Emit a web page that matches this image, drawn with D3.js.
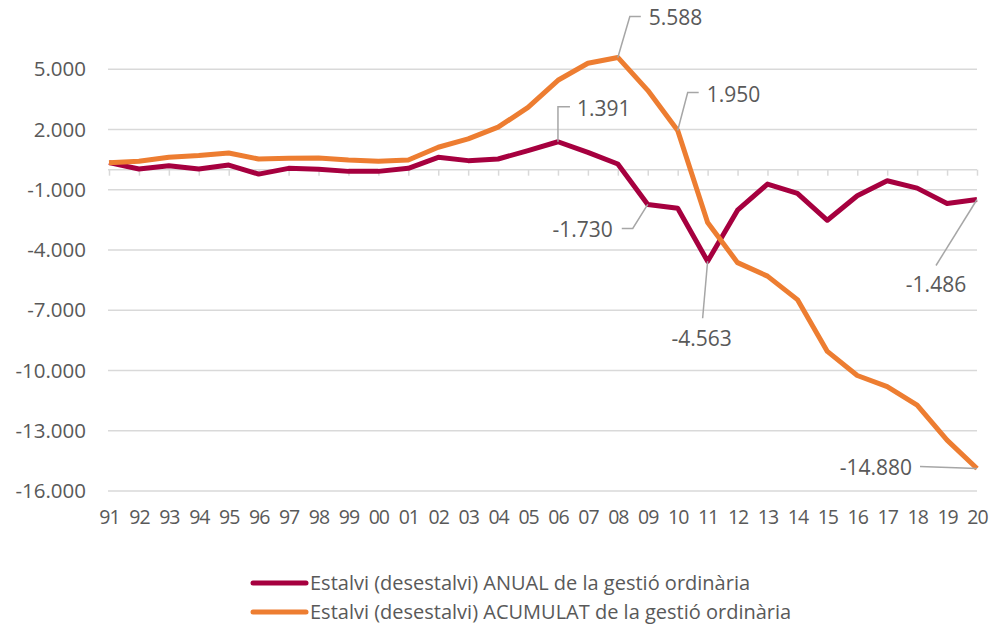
<!DOCTYPE html>
<html><head><meta charset="utf-8">
<script src="https://cdn.jsdelivr.net/npm/d3@7"></script>
<style>
html,body{margin:0;padding:0;background:#fff;}
text{font-family:"Open Sans",sans-serif;fill:#595959;}
</style></head>
<body>
<svg id="c" width="991" height="636"></svg>
<script>
const years = ["91","92","93","94","95","96","97","98","99","00","01","02","03","04","05","06","07","08","09","10","11","12","13","14","15","16","17","18","19","20"];
const anual = [350,35,200,35,230,-220,65,15,-85,-85,65,615,450,530,950,1391,860,280,-1730,-1920,-4563,-2020,-720,-1180,-2520,-1300,-550,-920,-1680,-1486];
const acumulat = [350,415,615,700,830,530,570,580,480,415,480,1115,1530,2115,3100,4450,5300,5588,3950,1950,-2630,-4630,-5300,-6470,-9050,-10250,-10800,-11720,-13470,-14880];
const yTicks = [5000,2000,-1000,-4000,-7000,-10000,-13000,-16000];
const seriesNames = ["Estalvi (desestalvi) ANUAL de la gestió ordinària","Estalvi (desestalvi) ACUMULAT de la gestió ordinària"];
const colors = ["#A6003F","#ED7D31"];

const fmt = d3.formatLocale({decimal:",",thousands:".",grouping:[3],currency:["",""],minus:"-"}).format(",d");
const svg = d3.select("#c");
const x = d3.scalePoint().domain(years).range([109,977]);
const y = d3.scaleLinear().domain([-16000,8000]).range([491,9]);

// gridlines
svg.append("g").selectAll("line").data(yTicks).join("line")
  .attr("x1",108).attr("x2",977).attr("y1",d=>y(d)).attr("y2",d=>y(d))
  .attr("stroke","#D9D9D9").attr("stroke-width",1.5);

// y axis labels
const yAxis = svg.append("g").attr("transform","translate(86,0)")
  .call(d3.axisLeft(y).tickValues(yTicks).tickFormat(fmt).tickSize(0).tickPadding(0));
yAxis.select(".domain").remove();
yAxis.selectAll("text").attr("font-size",20.5).attr("fill","#595959").attr("font-family","Open Sans");

// category axis at zero
const xAxis = svg.append("g").attr("transform",`translate(0,${y(0)})`)
  .call(d3.axisBottom(x).tickSize(6).tickFormat(""));
xAxis.select(".domain").attr("stroke","#D9D9D9").attr("stroke-width",1.5).attr("d",`M108,0H977`);
xAxis.selectAll(".tick line").attr("stroke","#D9D9D9").attr("stroke-width",1.5);

// x labels at bottom
const xLab = svg.append("g").attr("transform","translate(0,510)")
  .call(d3.axisBottom(x).tickSize(0).tickPadding(0));
xLab.select(".domain").remove();
xLab.selectAll("text").attr("font-size",19.5).attr("fill","#595959").attr("font-family","Open Sans").attr("dy","0.71em").attr("letter-spacing","-1");

// lines
const line = d3.line().x((d,i)=>x(years[i])).y(d=>y(d));
[anual,acumulat].forEach((s,k)=>{
  svg.append("path").datum(s).attr("d",line).attr("fill","none")
    .attr("stroke",colors[k]).attr("stroke-width",5).attr("stroke-linejoin","round");
});

// data labels with leaders
const lg = svg.append("g");
function label(series, idx, pts, tx, ty, anchor){
  const px = x(years[idx]), py = y(series[idx]);
  const path = d3.path(); path.moveTo(px,py);
  pts.forEach(p=>path.lineTo(px+p[0],py+p[1]));
  lg.append("path").attr("d",path.toString()).attr("fill","none").attr("stroke","#A6A6A6").attr("stroke-width",1.5);
  lg.append("text").attr("x",px+tx).attr("y",py+ty).attr("text-anchor",anchor).attr("dy","0.35em")
    .attr("font-size",21).text(fmt(series[idx]));
}
label(acumulat,17,[[12,-41],[23,-41]],31,-40,"start");
label(acumulat,19,[[10,-38],[21,-38]],29,-36,"start");
label(anual,15,[[0,-35],[12,-35]],19,-33,"start");
label(anual,18,[[-15,24],[-26,24]],-35,25,"end");
label(anual,20,[[-5,57]],-6,77,"middle");
label(anual,29,[[-41,66]],-41,85,"middle");
label(acumulat,29,[[-57,-2]],-65,-1,"end");

// legend
const leg = svg.append("g");
seriesNames.forEach((n,k)=>{
  const ly = 583 + k*29;
  leg.append("line").attr("x1",253).attr("x2",306).attr("y1",ly).attr("y2",ly)
    .attr("stroke",colors[k]).attr("stroke-width",5).attr("stroke-linecap","round");
  leg.append("text").attr("x",310).attr("y",ly).attr("dy","0.35em").attr("font-size",20).text(n);
});
</script>
</body></html>
